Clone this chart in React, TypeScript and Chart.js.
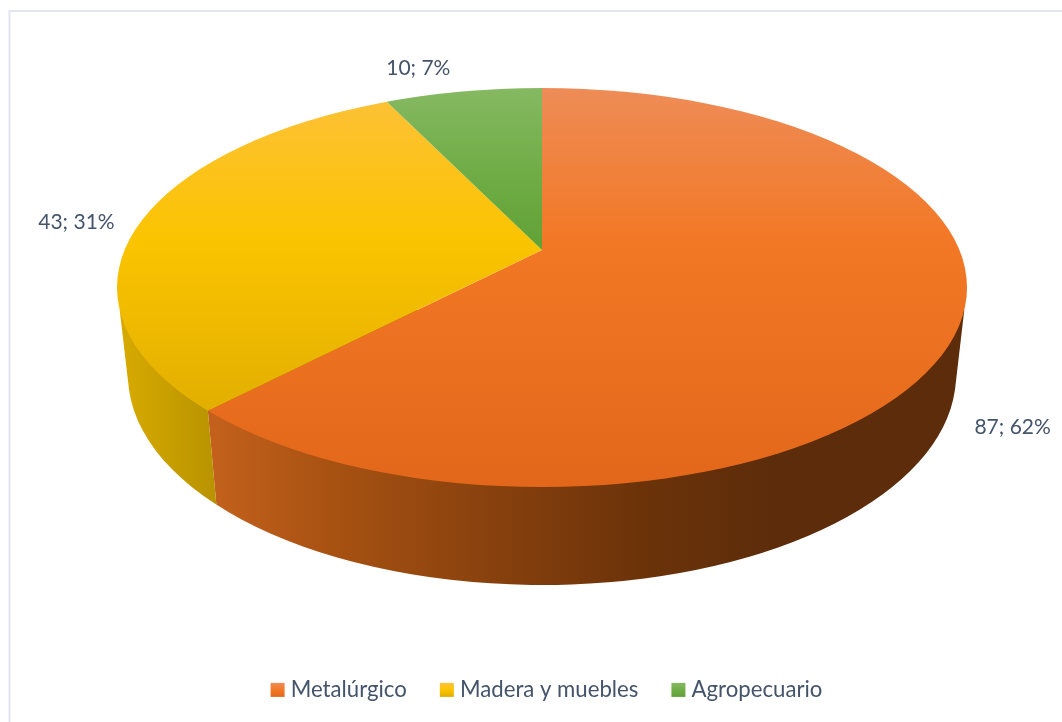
import React, { useEffect, useRef } from "react";
import { Chart, registerables } from "chart.js";

Chart.register(...registerables);

const categories = ["Metalúrgico", "Madera y muebles", "Agropecuario"];
const values = [87, 43, 10];

const W = 1062;
const H = 722;
const TEXT = "#44546A";
const FONT = "Lato";
const LABEL_SIZE = 21;
const LEGEND_SIZE = 22.2;

// Projection of the tilted disc
const APEX = { x: 542, y: 250 };
const SQUASH = 0.46;
const REACH = 620;
const TOP = { cx: 542, cy: 287.5, rx: 425, ry: 199.5 };
const BOTTOM = { cx: 542, cy: 375, rx: 414, ry: 210 };
const BOTTOM_APEX = { x: 542, y: 348 };
const SIDE_TOP_Y = 310;
const SIDE_BOTTOM_Y = 390;

const TOP_STOPS = [
  [[88, "#EE8C57"], [240, "#F27825"], [487, "#E3671A"]],
  [[88, "#FDC13A"], [240, "#FBC400"], [420, "#E1AE00"]],
  [[88, "#86B962"], [170, "#70AD47"], [250, "#61A135"]],
];
const WALL_STOPS = [
  [[217, "#C2601C"], [330, "#A85212"], [480, "#8A420E"], [640, "#6C3309"], [780, "#5C2C0B"]],
  [[120, "#D8AA00"], [217, "#B89300"]],
  [[0, "#4F7A30"], [1062, "#4F7A30"]],
];
const SWATCH = 14;
const LABEL_OFFSETS = [
  [54, 100],
  [-65, 1],
  [-45, -23],
];

function gradient(ctx: CanvasRenderingContext2D, stops: any[], from: number, to: number, horizontal: boolean, map: (n: number) => number = (n) => n) {
  const g = horizontal
    ? ctx.createLinearGradient(map(from), 0, map(to), 0)
    : ctx.createLinearGradient(0, map(from), 0, map(to));
  stops.forEach(([p, c]) => g.addColorStop((p - from) / (to - from), c));
  return g;
}

function view(chart: any) {
  const a = chart.chartArea;
  const cx = (a.left + a.right) / 2;
  const cy = (a.top + a.bottom) / 2;
  const r = Math.min(a.right - a.left, a.bottom - a.top) / 2;
  const sx = REACH / r;
  return { cx, cy, r, sx, sy: sx * SQUASH };
}

function rayHit(o: { x: number; y: number }, e: typeof TOP, angle: number) {
  const dx = Math.cos(angle);
  const dy = Math.sin(angle) * SQUASH;
  const ox = (o.x - e.cx) / e.rx;
  const oy = (o.y - e.cy) / e.ry;
  const ax = dx / e.rx;
  const ay = dy / e.ry;
  const A = ax * ax + ay * ay;
  const B = 2 * (ox * ax + oy * ay);
  const C = ox * ox + oy * oy - 1;
  const t = (-B + Math.sqrt(B * B - 4 * A * C)) / (2 * A);
  return { x: o.x + dx * t, y: o.y + dy * t };
}

function wallEdgeX(angle: number, y: number) {
  const clamped = Math.max(0, Math.min(Math.PI, angle));
  if (clamped === 0) return W + 50;
  if (clamped === Math.PI) return -50;
  const a = rayHit(APEX, TOP, clamped);
  const b = rayHit(BOTTOM_APEX, BOTTOM, clamped);
  return a.x + ((b.x - a.x) * (y - a.y)) / (b.y - a.y);
}

function wallPath(ctx: CanvasRenderingContext2D) {
  const t = Math.asin(Math.min(1, (SIDE_BOTTOM_Y - BOTTOM.cy) / BOTTOM.ry));
  const half = Math.sqrt(1 - ((SIDE_TOP_Y - TOP.cy) / TOP.ry) ** 2) * TOP.rx;
  ctx.beginPath();
  ctx.moveTo(TOP.cx - half, SIDE_TOP_Y);
  ctx.lineTo(TOP.cx - Math.cos(t) * BOTTOM.rx, SIDE_BOTTOM_Y);
  ctx.ellipse(BOTTOM.cx, BOTTOM.cy, BOTTOM.rx, BOTTOM.ry, 0, Math.PI - t, t, true);
  ctx.lineTo(TOP.cx + half, SIDE_TOP_Y);
  ctx.closePath();
}

const frame = {
  id: "frame",
  beforeDraw(chart: any) {
    const { ctx } = chart;
    ctx.save();
    ctx.fillStyle = "#FFFFFF";
    ctx.fillRect(0, 0, W, H);
    ctx.strokeStyle = "#E3E6EE";
    ctx.lineWidth = 2;
    ctx.beginPath();
    ctx.moveTo(9.5, H);
    ctx.lineTo(9.5, 11);
    ctx.lineTo(W, 11);
    ctx.stroke();
    ctx.restore();
  },
};

const disc = {
  id: "disc",
  beforeDatasetsDraw(chart: any) {
    const { ctx } = chart;
    const arcs = chart.getDatasetMeta(0).data;
    ctx.save();
    wallPath(ctx);
    ctx.clip();
    arcs.forEach((arc: any, i: number) => {
      const stops = WALL_STOPS[i];
      ctx.fillStyle = gradient(ctx, stops, stops[0][0] as number, stops[stops.length - 1][0] as number, true);
      ctx.beginPath();
      ctx.moveTo(wallEdgeX(arc.endAngle, 0), 0);
      ctx.lineTo(wallEdgeX(arc.startAngle, 0), 0);
      ctx.lineTo(wallEdgeX(arc.startAngle, H), H);
      ctx.lineTo(wallEdgeX(arc.endAngle, H), H);
      ctx.closePath();
      ctx.fill();
    });
    ctx.restore();

    const v = view(chart);
    ctx.save();
    ctx.beginPath();
    ctx.ellipse(TOP.cx, TOP.cy, TOP.rx, TOP.ry, 0, 0, Math.PI * 2);
    ctx.clip();
    ctx.translate(APEX.x, APEX.y);
    ctx.scale(v.sx, v.sy);
    ctx.translate(-v.cx, -v.cy);
  },
  afterDatasetsDraw(chart: any) {
    chart.ctx.restore();
  },
  afterDraw(chart: any) {
    const { ctx } = chart;
    const arcs = chart.getDatasetMeta(0).data;
    const total = values.reduce((a, b) => a + b, 0);
    ctx.save();
    ctx.fillStyle = TEXT;
    ctx.font = `${LABEL_SIZE}px ${FONT}`;
    ctx.textAlign = "center";
    ctx.textBaseline = "middle";
    arcs.forEach((arc: any, i: number) => {
      const p = rayHit(APEX, TOP, (arc.startAngle + arc.endAngle) / 2);
      const text = `${values[i]}; ${Math.round((values[i] / total) * 100)}%`;
      ctx.fillText(text, p.x + LABEL_OFFSETS[i][0], p.y + LABEL_OFFSETS[i][1]);
    });
    // Legend swatches sit in the hit boxes the legend laid out
    chart.legend.legendHitBoxes.forEach((box: any, i: number) => {
      const top = box.top + (box.height - SWATCH) / 2;
      const stops = TOP_STOPS[i];
      const g = ctx.createLinearGradient(0, top, 0, top + SWATCH);
      stops.forEach(([, c]: any, k: number) => g.addColorStop(k / (stops.length - 1), c));
      ctx.fillStyle = g;
      ctx.fillRect(box.left, top, SWATCH, SWATCH);
    });
    ctx.restore();
  },
};

export default function App() {
  const ref = useRef<HTMLCanvasElement>(null);
  useEffect(() => {
    document.body.style.margin = "0";
    const canvas = ref.current!;
    const chart = new Chart(canvas, {
      type: "pie",
      data: {
        labels: categories,
        datasets: [
          {
            data: values,
            borderWidth: 0,
            clip: false as any,
            backgroundColor: (c: any) => {
              if (!c.chart.chartArea) return "#888";
              const v = view(c.chart);
              const stops = TOP_STOPS[c.dataIndex];
              const map = (y: number) => v.cy + (y - APEX.y) / v.sy;
              return gradient(c.chart.ctx, stops, stops[0][0] as number, stops[stops.length - 1][0] as number, false, map);
            },
          },
        ],
      },
      options: {
        responsive: false,
        animation: false,
        layout: { padding: { bottom: 11, left: 31 } },
        plugins: {
          tooltip: { enabled: false },
          title: { display: false },
          legend: {
            position: "bottom",
            labels: {
              font: { family: FONT, size: LEGEND_SIZE },
              color: TEXT,
              boxWidth: 9,
              boxHeight: 14,
              padding: 33,
              generateLabels: (c: any) =>
                c.data.labels.map((text: string, i: number) => ({
                  text,
                  index: i,
                  hidden: false,
                  lineWidth: 0,
                  strokeStyle: "rgba(0,0,0,0)",
                  fontColor: TEXT,
                  fillStyle: "rgba(0,0,0,0)",
                })),
            },
          },
        },
      },
      plugins: [frame, disc],
    } as any);
    return () => chart.destroy();
  }, []);
  return <canvas ref={ref} width={W} height={H} style={{ display: "block", width: W, height: H }} />;
}
